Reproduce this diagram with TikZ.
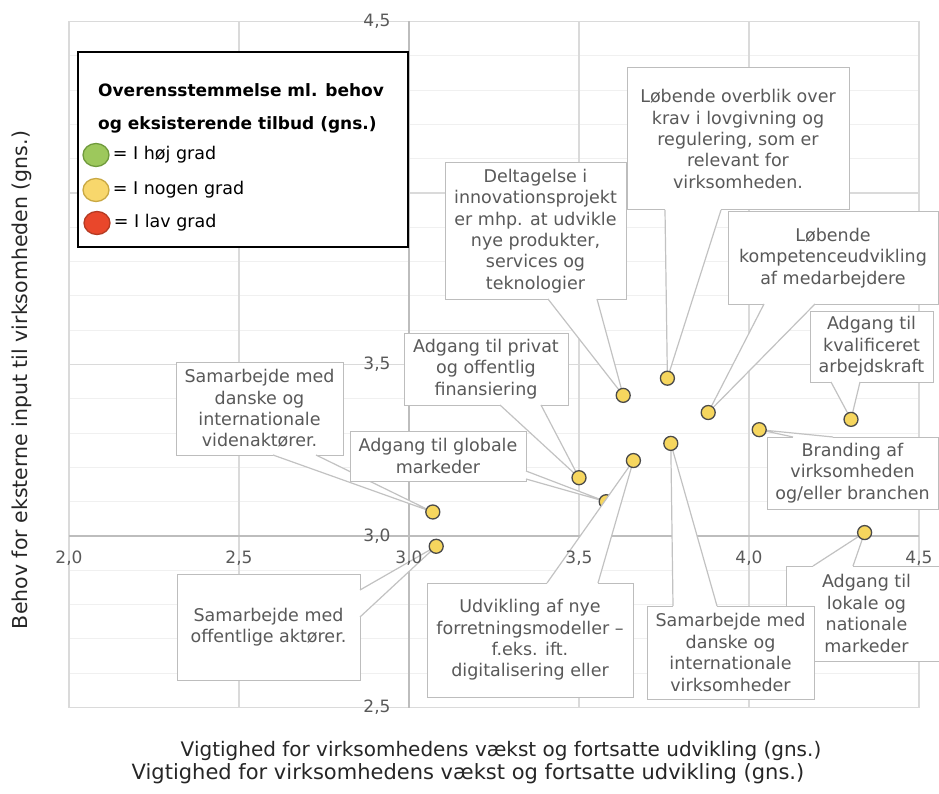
\documentclass[tikz,border=0pt]{standalone}
\usepackage{fontspec}
\setmainfont{DejaVu Sans}
\usetikzlibrary{positioning,shapes.geometric}

\definecolor{boxgray}{HTML}{BDBDBD}
\definecolor{pointgray}{HTML}{C2C2C2}
\definecolor{labelgray}{HTML}{595959}
\definecolor{gridgray}{HTML}{DADADA}
\definecolor{minorgray}{HTML}{F0F0F0}
\definecolor{axisgray}{HTML}{BDBDBD}
\definecolor{dotyellow}{HTML}{F6D65E}
\definecolor{dotedge}{HTML}{4A4A4A}
\definecolor{hojgreen}{HTML}{9DC85C}
\definecolor{hojedge}{HTML}{6F9A3C}
\definecolor{nogenyellow}{HTML}{F8D76C}
\definecolor{nogenedge}{HTML}{C9A843}
\definecolor{lavred}{HTML}{E9472B}
\definecolor{lavedge}{HTML}{B53A22}

\newcommand{\calloutfont}{\fontsize{17.5}{21.4}\selectfont}
\newcommand{\calloutpointer}[3]{%
  \fill[white] #1 -- (#3) -- #2 -- cycle;
  \draw[white, line width=1.6pt] #1 -- #2;
  \draw[pointer] #1 -- (#3) -- #2;
}

\tikzset{
  callout/.style={draw=boxgray, fill=white, line width=1pt, inner sep=0pt, outer sep=0pt,
    align=center, text=labelgray, font=\calloutfont},
  pointer/.style={draw=pointgray, line width=1.2pt, line join=round},
  datadot/.style={circle, draw=dotedge, fill=dotyellow, line width=1.3pt, minimum size=14pt, inner sep=0pt},
  ticklabel/.style={text=labelgray, font=\fontsize{17}{20}\selectfont},
  axistitle/.style={text=black!85, font=\fontsize{20}{24}\selectfont},
  legendmark/.style={ellipse, line width=1.3pt, minimum width=26pt, minimum height=23pt, inner sep=0pt},
  legendtext/.style={font=\fontsize{17.5}{21}\selectfont, inner sep=2pt},
  datacoords/.style={shift={(-611,1565)}, x=340pt, y=343pt},
}

\begin{document}
\begin{tikzpicture}[x=1pt, y=-1pt]
  \useasboundingbox (0,0) rectangle (939,794);

  % plot area in data coordinates
  \begin{scope}[datacoords]
    \foreach \i in {1,...,19}
      \draw[minorgray, line width=1pt] (2,{2.5+\i/10}) -- (4.5,{2.5+\i/10});
    \foreach \v in {3.5,4}
      \draw[gridgray, line width=1.2pt] (2,\v) -- (4.5,\v);
    \foreach \u in {2.5,3.5,4}
      \draw[gridgray, line width=1.2pt] (\u,2.5) -- (\u,4.5);
    \draw[gridgray, line width=1.2pt] (2,2.5) rectangle (4.5,4.5);
    \draw[axisgray, line width=1.5pt] (2,3) -- (4.5,3);
    \draw[axisgray, line width=1.5pt] (3,2.5) -- (3,4.5);

    \coordinate (viden) at (3.07,3.07);
    \coordinate (offentlig) at (3.08,2.97);
    \coordinate (finans) at (3.50,3.17);
    \coordinate (global) at (3.58,3.10);
    \coordinate (innovation) at (3.63,3.41);
    \coordinate (forretning) at (3.66,3.22);
    \coordinate (overblik) at (3.76,3.46);
    \coordinate (virksomhed) at (3.77,3.27);
    \coordinate (kompetence) at (3.88,3.36);
    \coordinate (branding) at (4.03,3.31);
    \coordinate (arbejdskraft) at (4.30,3.34);
    \coordinate (lokal) at (4.34,3.01);
  \end{scope}

  % axis titles
  \node[axistitle, rotate=90, font=\fontsize{20.5}{24}\selectfont] (ytitle) at (22,380) {Behov for eksterne input til virksomheden (gns.)};
  \node[axistitle] (xtitle) at (501,751) {Vigtighed for virksomhedens vækst og fortsatte udvikling (gns.)};
  \node[axistitle, font=\fontsize{21}{24}\selectfont] (xtitlecopy) at (468,774) {Vigtighed for virksomhedens vækst og fortsatte udvikling (gns.)};

  % legend
  \node[draw=black, line width=2.5pt, fill=white, minimum width=330pt, minimum height=195pt] (legend) at (243,149.5) {};
  \node[anchor=west, font=\fontsize{17}{20}\bfseries, inner sep=0pt] (legendtitle) at (98,90) {Overensstemmelse ml. behov};
  \node[anchor=west, font=\fontsize{17}{20}\bfseries, inner sep=0pt] (legendtitlecont) at (98,125) {og eksisterende tilbud (gns.)};
  \node[legendmark, draw=hojedge, fill=hojgreen] (hojmark) at (96,155) {};
  \node[legendtext, right=1pt of hojmark] (hojtext) {= I høj grad};
  \node[legendmark, draw=nogenedge, fill=nogenyellow] (nogenmark) at (96,190) {};
  \node[legendtext, right=1pt of nogenmark] (nogentext) {= I nogen grad};
  \node[legendmark, draw=lavedge, fill=lavred] (lavmark) at (97,223) {};
  \node[legendtext, right=1pt of lavmark] (lavtext) {= I lav grad};

  % callouts
  \node[callout, minimum width=167pt, minimum height=93pt] (videnbox) at (259.5,408.5)
    {Samarbejde med\\danske og\\internationale\\videnaktører.};
  \calloutpointer{([xshift=97pt]videnbox.south west)}{([xshift=140pt]videnbox.south west)}{viden}

  \node[callout, minimum width=183pt, minimum height=106pt] (offentligbox) at (268.5,627)
    {Samarbejde med\\offentlige aktører.};
  \calloutpointer{([yshift=-16pt]offentligbox.north east)}{([yshift=-43pt]offentligbox.north east)}{offentlig}

  \node[callout, minimum width=176pt, minimum height=50pt] (globalbox) at (438,456)
    {Adgang til globale\\markeder};
  \calloutpointer{([yshift=10pt]globalbox.south east)}{([yshift=2pt]globalbox.south east)}{global}

  \node[callout, minimum width=164pt, minimum height=72pt] (finansbox) at (486,369)
    {Adgang til privat\\og offentlig\\finansiering};
  \calloutpointer{([xshift=96pt]finansbox.south west)}{([xshift=137pt]finansbox.south west)}{finans}

  \node[callout, minimum width=181pt, minimum height=136pt] (innovationbox) at (535.5,231)
    {Deltagelse i\\innovationsprojekt\\er mhp. at udvikle\\nye produkter,\\services og\\teknologier};
  \calloutpointer{([xshift=103pt]innovationbox.south west)}{([xshift=152pt]innovationbox.south west)}{innovation}

  \node[callout, minimum width=222pt, minimum height=142pt] (overblikbox) at (738,139)
    {Løbende overblik over\\krav i lovgivning og\\regulering, som er\\relevant for\\virksomheden.};
  \calloutpointer{([xshift=38pt]overblikbox.south west)}{([xshift=94pt]overblikbox.south west)}{overblik}

  \node[callout, minimum width=210pt, minimum height=92pt] (kompetencebox) at (833,258)
    {Løbende\\kompetenceudvikling\\af medarbejdere};
  \calloutpointer{([xshift=36pt]kompetencebox.south west)}{([xshift=87pt]kompetencebox.south west)}{kompetence}

  \node[callout, minimum width=123pt, minimum height=71pt] (arbejdskraftbox) at (871.5,346.5)
    {Adgang til\\kvalificeret\\arbejdskraft};
  \calloutpointer{([xshift=21pt]arbejdskraftbox.south west)}{([xshift=50pt]arbejdskraftbox.south west)}{arbejdskraft}

  \node[callout, minimum width=171pt, minimum height=72pt] (brandingbox) at (852.5,473)
    {Branding af\\virksomheden\\og/eller branchen};
  \calloutpointer{([xshift=26pt]brandingbox.north west)}{([xshift=66pt]brandingbox.north west)}{branding}

  \node[callout, minimum width=161pt, minimum height=95pt] (lokalbox) at (866.5,613.5)
    {Adgang til\\lokale og\\nationale\\markeder};
  \calloutpointer{([xshift=27pt]lokalbox.north west)}{([xshift=67pt]lokalbox.north west)}{lokal}

  \node[callout, minimum width=167pt, minimum height=93pt] (virksomhedbox) at (730.5,652.5)
    {Samarbejde med\\danske og\\internationale\\virksomheder};
  \calloutpointer{([xshift=26pt]virksomhedbox.north west)}{([xshift=70pt]virksomhedbox.north west)}{virksomhed}

  % this dot sits under the next pointer
  \node[datadot] (globaldot) at (global) {};

  \node[callout, minimum width=206pt, minimum height=114pt] (forretningbox) at (530,640)
    {Udvikling af nye\\forretningsmodeller –\\f.eks. ift.\\digitalisering eller};
  \calloutpointer{([xshift=120pt]forretningbox.north west)}{([xshift=171pt]forretningbox.north west)}{forretning}

  % tick labels
  \begin{scope}[datacoords]
    \foreach \u/\t [count=\k] in {2/{2,0},2.5/{2,5},3/{3,0},3.5/{3,5},4/{4,0},4.5/{4,5}}
      \node[ticklabel] (xtick\k) at ([yshift=-22pt]\u,3) {\t};
    \foreach \v/\t [count=\k] in {4.5/{4,5},3.5/{3,5},3/{3,0},2.5/{2,5}}
      \node[ticklabel] (ytick\k) at ([xshift=-32pt]3,\v) {\t};
  \end{scope}

  % data points
  \foreach \p in {viden,offentlig,finans,innovation,forretning,overblik,virksomhed,kompetence,branding,arbejdskraft,lokal}
    \node[datadot] (\p dot) at (\p) {};
\end{tikzpicture}
\end{document}
